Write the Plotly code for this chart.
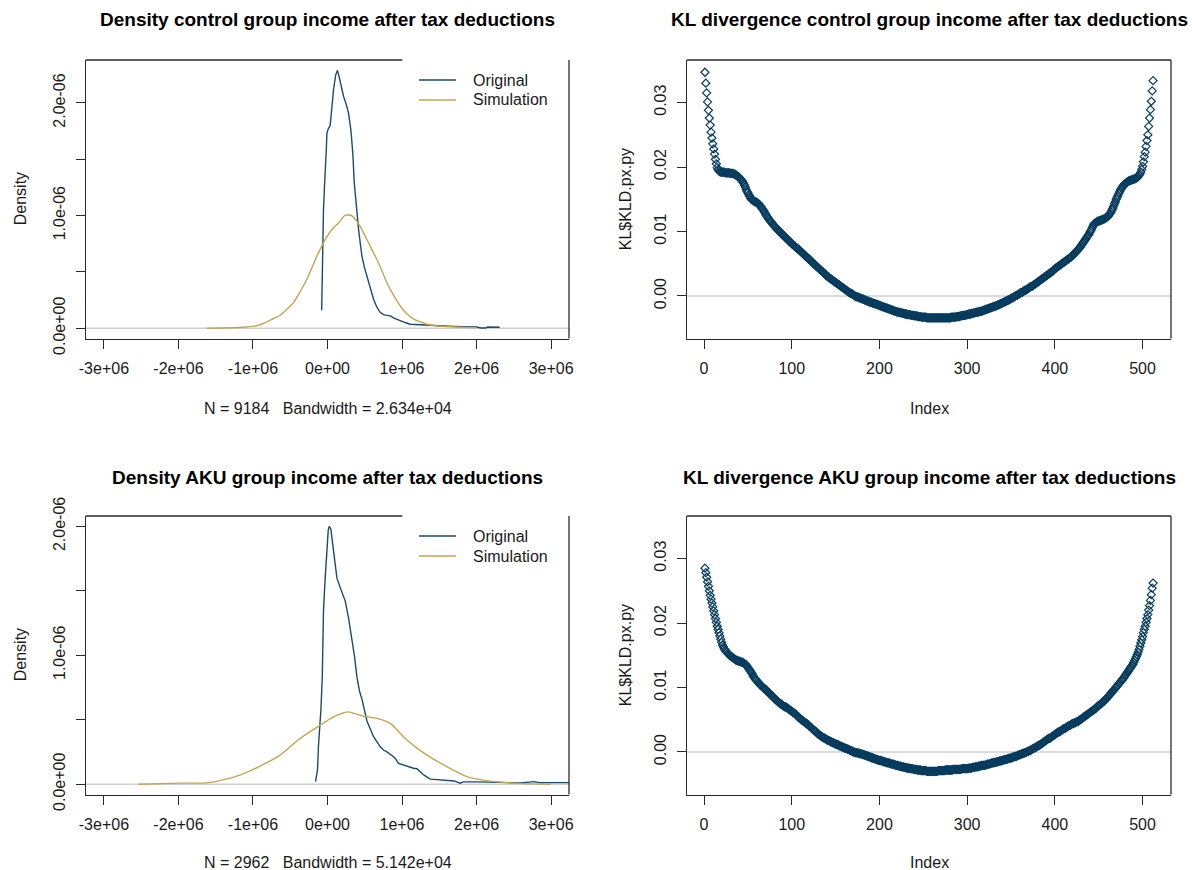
import plotly.graph_objects as go

# ---------------- data ----------------
# Kernel density, control group (income after tax deductions)
ctrl_orig_x = [-78000, -72000, -62000, -54000, -40000, -28000, -15000, -8000, 10000, 36000,
               55000, 81000, 110000, 134000, 160000, 190000, 215000, 250000, 282000, 314000,
               340000, 359000, 385000, 417000, 440000, 462000, 495000, 529000, 570000, 618000,
               660000, 708000, 760000, 842000, 900000, 976000, 1050000, 1110000, 1250000, 1380000,
               1500000, 1700000, 2000000, 2060000, 2120000, 2150000, 2310000]
ctrl_orig_d = [0.16e-6, 0.45e-6, 0.80e-6, 1.05e-6, 1.27e-6, 1.40e-6, 1.60e-6, 1.73e-6, 1.77e-6, 1.80e-6,
               1.95e-6, 2.12e-6, 2.25e-6, 2.29e-6, 2.22e-6, 2.12e-6, 2.06e-6, 1.99e-6, 1.91e-6, 1.76e-6,
               1.55e-6, 1.29e-6, 1.08e-6, 0.876e-6, 0.75e-6, 0.64e-6, 0.54e-6, 0.463e-6, 0.36e-6, 0.257e-6,
               0.19e-6, 0.139e-6, 0.118e-6, 0.109e-6, 0.088e-6, 0.065e-6, 0.048e-6, 0.035e-6, 0.028e-6, 0.025e-6,
               0.021e-6, 0.015e-6, 0.010e-6, 0.002e-6, 0.002e-6, 0.010e-6, 0.008e-6]

ctrl_sim_x = [-1620000, -1400000, -1190000, -1100000, -950000, -850000, -725000, -635000, -500000, -457000,
              -380000, -277000, -200000, -142000, -54000, 0, 59000, 148000, 238000, 270000,
              314000, 395000, 450000, 506000, 580000, 663000, 730000, 798000, 880000, 976000,
              1060000, 1157000, 1250000, 1335000, 1450000, 1600000, 1800000, 2000000]
ctrl_sim_d = [0.000e-6, 0.002e-6, 0.006e-6, 0.010e-6, 0.022e-6, 0.045e-6, 0.086e-6, 0.115e-6, 0.197e-6, 0.227e-6,
              0.31e-6, 0.434e-6, 0.55e-6, 0.64e-6, 0.758e-6, 0.82e-6, 0.876e-6, 0.935e-6, 1.003e-6, 1.005e-6,
              1.003e-6, 0.95e-6, 0.89e-6, 0.817e-6, 0.72e-6, 0.61e-6, 0.51e-6, 0.404e-6, 0.30e-6, 0.197e-6,
              0.13e-6, 0.08e-6, 0.055e-6, 0.035e-6, 0.022e-6, 0.015e-6, 0.008e-6, 0.004e-6]

# Kernel density, AKU group
aku_orig_x = [-161000, -156000, -134000, -121000, -100000, -89000, -70000, -54000, -31000, -8000,
              10000, 23000, 45000, 81000, 126000, 161000, 200000, 238000, 282000, 327000,
              360000, 395000, 430000, 462000, 529000, 618000, 708000, 752000, 798000, 886000,
              909000, 953000, 1060000, 1155000, 1200000, 1290000, 1380000, 1600000, 1700000, 1780000,
              1820000, 2000000, 2230000, 2400000, 2600000, 2770000, 2850000, 3400000]
aku_orig_d = [0.02e-6, 0.033e-6, 0.11e-6, 0.30e-6, 0.45e-6, 0.57e-6, 0.83e-6, 1.346e-6, 1.60e-6, 1.86e-6,
              1.97e-6, 2.00e-6, 1.98e-6, 1.81e-6, 1.60e-6, 1.54e-6, 1.48e-6, 1.42e-6, 1.29e-6, 1.14e-6,
              1.00e-6, 0.83e-6, 0.72e-6, 0.66e-6, 0.49e-6, 0.368e-6, 0.29e-6, 0.265e-6, 0.25e-6, 0.213e-6,
              0.20e-6, 0.162e-6, 0.14e-6, 0.124e-6, 0.12e-6, 0.072e-6, 0.039e-6, 0.030e-6, 0.025e-6, 0.008e-6,
              0.018e-6, 0.018e-6, 0.016e-6, 0.010e-6, 0.010e-6, 0.020e-6, 0.012e-6, 0.012e-6]

aku_sim_x = [-2540000, -1980000, -1620000, -1440000, -1170000, -904000, -635000, -367000, -98000, 81000,
             200000, 282000, 380000, 484000, 663000, 842000, 950000, 1066000, 1200000, 1335000,
             1600000, 1870000, 2140000, 2500000, 2990000]
aku_sim_d = [0.0, 0.008e-6, 0.010e-6, 0.028e-6, 0.072e-6, 0.141e-6, 0.226e-6, 0.355e-6, 0.458e-6, 0.522e-6,
             0.550e-6, 0.561e-6, 0.545e-6, 0.527e-6, 0.51e-6, 0.471e-6, 0.41e-6, 0.342e-6, 0.28e-6, 0.226e-6,
             0.136e-6, 0.059e-6, 0.028e-6, 0.008e-6, 0.0]

ctrl_n, ctrl_bw = 9184, "2.634e+04"
aku_n, aku_bw = 2962, "5.142e+04"

# Pointwise KL divergence KL$KLD.px.py, control group
kl_control = [
    .0347, .0330, .0315, .0301, .0288, .0276, .0265, .0254, .0245, .0236,
    .0228, .0220, .0212, .0205, .0199, .0196, .0194, .0193, .0192, .0192,
    .0192, .0192, .0192, .0191, .0191, .0191, .0191, .0191, .0191, .0190,
    .0190, .0190, .0190, .0189, .0189, .0188, .0187, .0186, .0185, .0184,
    .0182, .0181, .0179, .0177, .0175, .0172, .0169, .0165, .0162, .0160,
    .0157, .0155, .0152, .0150, .0149, .0148, .0147, .0146, .0146, .0145,
    .0144, .0143, .0142, .0140, .0138, .0136, .0134, .0132, .0130, .0127,
    .0125, .0123, .0121, .0119, .0117, .0115, .0114, .0112, .0110, .0109,
    .0107, .0106, .0104, .0103, .0101, .0100, .0099, .0097, .0096, .0095,
    .0093, .0092, .0091, .0089, .0088, .0087, .0085, .0084, .0083, .0081,
    .0080, .0079, .0078, .0076, .0075, .0074, .0073, .0072, .0071, .0069,
    .0068, .0067, .0066, .0064, .0063, .0062, .0060, .0059, .0058, .0057,
    .0055, .0054, .0053, .0051, .0050, .0049, .0048, .0046, .0045, .0044,
    .0043, .0041, .0040, .0039, .0038, .0036, .0035, .0034, .0032, .0031,
    .0030, .0029, .0028, .0027, .0026, .0025, .0024, .0023, .0022, .0021,
    .0020, .0019, .0018, .0017, .0016, .0015, .0014, .0013, .0012, .0011,
    .0010, .0009, .0008, .0007, .0006, .0005, .0004, .0004, .0003, .0002,
    .0001, .0000, -.0001, -.0001, -.0002, -.0002, -.0003, -.0003, -.0004, -.0004,
    -.0005, -.0005, -.0006, -.0007, -.0007, -.0008, -.0008, -.0009, -.0009, -.0010,
    -.0010, -.0011, -.0011, -.0012, -.0012, -.0013, -.0013, -.0014, -.0014, -.0015,
    -.0015, -.0016, -.0016, -.0017, -.0017, -.0018, -.0018, -.0019, -.0019, -.0020,
    -.0020, -.0021, -.0021, -.0022, -.0022, -.0023, -.0023, -.0024, -.0024, -.0025,
    -.0025, -.0025, -.0026, -.0026, -.0026, -.0027, -.0027, -.0027, -.0028, -.0028,
    -.0028, -.0029, -.0029, -.0029, -.0029, -.0030, -.0030, -.0030, -.0030, -.0031,
    -.0031, -.0031, -.0031, -.0032, -.0032, -.0032, -.0032, -.0033, -.0033, -.0033,
    -.0033, -.0033, -.0033, -.0034, -.0034, -.0034, -.0034, -.0034, -.0034, -.0034,
    -.0034, -.0034, -.0034, -.0034, -.0034, -.0034, -.0034, -.0034, -.0034, -.0034,
    -.0034, -.0034, -.0034, -.0034, -.0034, -.0034, -.0034, -.0034, -.0034, -.0034,
    -.0034, -.0033, -.0033, -.0033, -.0033, -.0033, -.0033, -.0032, -.0032, -.0032,
    -.0032, -.0031, -.0031, -.0031, -.0030, -.0030, -.0030, -.0030, -.0029, -.0029,
    -.0029, -.0028, -.0028, -.0028, -.0027, -.0027, -.0027, -.0026, -.0026, -.0026,
    -.0025, -.0025, -.0025, -.0024, -.0024, -.0024, -.0023, -.0023, -.0022, -.0022,
    -.0021, -.0021, -.0020, -.0020, -.0019, -.0019, -.0018, -.0018, -.0017, -.0017,
    -.0016, -.0016, -.0015, -.0015, -.0014, -.0014, -.0013, -.0012, -.0012, -.0011,
    -.0010, -.0010, -.0009, -.0008, -.0008, -.0007, -.0006, -.0006, -.0005, -.0004,
    -.0003, -.0003, -.0002, -.0001, .0000, .0001, .0001, .0002, .0003, .0004,
    .0005, .0005, .0006, .0007, .0008, .0009, .0009, .0010, .0011, .0012,
    .0013, .0014, .0015, .0015, .0016, .0017, .0018, .0019, .0020, .0021,
    .0022, .0023, .0024, .0025, .0026, .0027, .0028, .0029, .0030, .0031,
    .0032, .0033, .0034, .0035, .0036, .0037, .0038, .0039, .0041, .0042,
    .0043, .0044, .0045, .0046, .0047, .0048, .0049, .0050, .0051, .0052,
    .0053, .0054, .0055, .0056, .0057, .0058, .0059, .0060, .0061, .0063,
    .0064, .0065, .0067, .0068, .0070, .0071, .0073, .0074, .0076, .0078,
    .0080, .0082, .0084, .0086, .0088, .0090, .0092, .0094, .0096, .0099,
    .0101, .0104, .0107, .0110, .0112, .0113, .0114, .0115, .0116, .0116,
    .0117, .0117, .0118, .0118, .0119, .0119, .0120, .0121, .0122, .0123,
    .0124, .0126, .0128, .0130, .0133, .0136, .0139, .0143, .0146, .0150,
    .0153, .0156, .0159, .0162, .0165, .0167, .0169, .0171, .0173, .0174,
    .0175, .0176, .0177, .0178, .0179, .0179, .0180, .0180, .0181, .0181,
    .0182, .0182, .0183, .0184, .0185, .0187, .0189, .0192, .0196, .0201,
    .0208, .0216, .0223, .0232, .0241, .0250, .0263, .0276, .0289, .0302,
    .0318, .0334,
]

# Pointwise KL divergence, AKU group
kl_aku = [
    .0285, .0278, .0271, .0264, .0257, .0250, .0243, .0237, .0231, .0225,
    .0219, .0213, .0207, .0201, .0195, .0190, .0185, .0180, .0175, .0170,
    .0166, .0163, .0160, .0158, .0156, .0155, .0153, .0152, .0150, .0149,
    .0148, .0147, .0146, .0145, .0144, .0143, .0142, .0142, .0141, .0141,
    .0140, .0140, .0139, .0139, .0138, .0137, .0136, .0135, .0133, .0131,
    .0129, .0127, .0125, .0123, .0121, .0118, .0116, .0114, .0112, .0111,
    .0109, .0107, .0106, .0104, .0103, .0102, .0100, .0099, .0098, .0097,
    .0096, .0094, .0093, .0092, .0090, .0089, .0088, .0086, .0085, .0084,
    .0082, .0081, .0080, .0078, .0077, .0076, .0075, .0074, .0073, .0072,
    .0071, .0070, .0070, .0069, .0068, .0067, .0066, .0065, .0064, .0063,
    .0062, .0061, .0060, .0059, .0058, .0056, .0055, .0054, .0052, .0051,
    .0050, .0049, .0048, .0047, .0046, .0045, .0044, .0043, .0042, .0040,
    .0039, .0038, .0037, .0035, .0034, .0033, .0032, .0031, .0029, .0028,
    .0027, .0026, .0025, .0024, .0023, .0022, .0022, .0021, .0020, .0019,
    .0018, .0018, .0017, .0016, .0016, .0015, .0014, .0014, .0013, .0012,
    .0012, .0011, .0011, .0010, .0009, .0009, .0008, .0008, .0007, .0006,
    .0006, .0005, .0005, .0004, .0004, .0003, .0002, .0002, .0001, .0000,
    .0000, -.0001, -.0001, -.0001, -.0002, -.0002, -.0002, -.0003, -.0003, -.0003,
    -.0004, -.0004, -.0005, -.0005, -.0006, -.0006, -.0007, -.0007, -.0008, -.0008,
    -.0009, -.0009, -.0010, -.0010, -.0011, -.0011, -.0012, -.0012, -.0013, -.0013,
    -.0013, -.0014, -.0014, -.0015, -.0015, -.0015, -.0016, -.0016, -.0017, -.0017,
    -.0017, -.0018, -.0018, -.0019, -.0019, -.0019, -.0020, -.0020, -.0021, -.0021,
    -.0021, -.0022, -.0022, -.0022, -.0023, -.0023, -.0023, -.0024, -.0024, -.0024,
    -.0025, -.0025, -.0025, -.0025, -.0026, -.0026, -.0026, -.0026, -.0027, -.0027,
    -.0027, -.0027, -.0028, -.0028, -.0028, -.0028, -.0028, -.0029, -.0029, -.0029,
    -.0029, -.0029, -.0029, -.0030, -.0030, -.0030, -.0030, -.0030, -.0030, -.0030,
    -.0030, -.0030, -.0030, -.0030, -.0030, -.0030, -.0029, -.0029, -.0029, -.0029,
    -.0029, -.0029, -.0029, -.0029, -.0028, -.0028, -.0028, -.0028, -.0028, -.0028,
    -.0028, -.0028, -.0028, -.0027, -.0027, -.0027, -.0027, -.0027, -.0027, -.0027,
    -.0027, -.0027, -.0027, -.0026, -.0026, -.0026, -.0026, -.0026, -.0026, -.0026,
    -.0026, -.0025, -.0025, -.0025, -.0025, -.0024, -.0024, -.0024, -.0023, -.0023,
    -.0023, -.0023, -.0022, -.0022, -.0022, -.0021, -.0021, -.0021, -.0021, -.0021,
    -.0020, -.0020, -.0019, -.0019, -.0019, -.0018, -.0018, -.0017, -.0017, -.0017,
    -.0016, -.0016, -.0016, -.0015, -.0015, -.0015, -.0014, -.0014, -.0014, -.0013,
    -.0013, -.0012, -.0012, -.0012, -.0011, -.0011, -.0010, -.0010, -.0010, -.0009,
    -.0009, -.0008, -.0008, -.0007, -.0007, -.0007, -.0006, -.0005, -.0005, -.0004,
    -.0004, -.0003, -.0003, -.0002, -.0002, -.0001, -.0001, .0000, .0001, .0001,
    .0002, .0003, .0003, .0004, .0005, .0006, .0006, .0007, .0008, .0009,
    .0010, .0010, .0011, .0012, .0013, .0014, .0015, .0016, .0017, .0018,
    .0019, .0020, .0021, .0021, .0022, .0023, .0024, .0025, .0026, .0027,
    .0028, .0029, .0030, .0031, .0031, .0032, .0033, .0034, .0035, .0036,
    .0036, .0037, .0038, .0039, .0040, .0041, .0041, .0042, .0043, .0044,
    .0044, .0045, .0045, .0046, .0047, .0047, .0048, .0049, .0050, .0051,
    .0052, .0053, .0054, .0055, .0056, .0057, .0058, .0059, .0060, .0061,
    .0062, .0063, .0064, .0065, .0066, .0067, .0068, .0070, .0071, .0072,
    .0073, .0074, .0075, .0077, .0078, .0079, .0080, .0082, .0083, .0085,
    .0086, .0088, .0089, .0091, .0093, .0094, .0096, .0097, .0099, .0101,
    .0102, .0104, .0106, .0107, .0109, .0111, .0112, .0114, .0116, .0118,
    .0120, .0122, .0124, .0126, .0128, .0130, .0132, .0134, .0136, .0139,
    .0142, .0145, .0148, .0151, .0155, .0159, .0164, .0169, .0174, .0179,
    .0185, .0190, .0195, .0201, .0207, .0213, .0220, .0227, .0235, .0244,
    .0254, .0262,
]

income_ticks = [-3e6, -2e6, -1e6, 0, 1e6, 2e6, 3e6]
income_labels = ["-3e+06", "-2e+06", "-1e+06", "0e+00", "1e+06", "2e+06", "3e+06"]
density_ticks = [0, 0.5e-6, 1.0e-6, 1.5e-6, 2.0e-6]
density_labels = ["0.0e+00", "", "1.0e-06", "", "2.0e-06"]
index_ticks = [0, 100, 200, 300, 400, 500]
kl_ticks = [0.00, 0.01, 0.02, 0.03]
kl_labels = ["0.00", "0.01", "0.02", "0.03"]

series_names = ["Original", "Simulation"]
titles = [
    "Density control group income after tax deductions",
    "KL divergence control group income after tax deductions",
    "Density AKU group income after tax deductions",
    "KL divergence AKU group income after tax deductions",
]

# ---------------- styling ----------------
W, H = 1192, 870
FONT = "Liberation Sans, Arial, sans-serif"
C_ORIG = "#1c4a6b"
C_SIM = "#c4a552"
C_KL = "#083c5e"
C_AXIS = "#2a2a2a"
C_TEXT = "#1a1a1a"
C_ZERO = "#cfcfcf"

# plot regions in pixels: (left, right) and (top, bottom)
LEFT_COL = (86, 569)
RIGHT_COL = (687, 1171)
TOP_ROW = (60, 338.5)
BOT_ROW = (516, 794.5)


def xdom(col):
    return [col[0] / W, col[1] / W]


def ydom(row):
    return [1 - row[1] / H, 1 - row[0] / H]


def r_range(lo, hi):
    # R's default 4% axis padding
    pad = 0.04 * (hi - lo)
    return [lo - pad, hi + pad]


kl_index_control = list(range(1, len(kl_control) + 1))
kl_index_aku = list(range(1, len(kl_aku) + 1))

fig = go.Figure()

# density panels
for (ox, od, sx, sd), axn in [((ctrl_orig_x, ctrl_orig_d, ctrl_sim_x, ctrl_sim_d), ""),
                              ((aku_orig_x, aku_orig_d, aku_sim_x, aku_sim_d), "3")]:
    fig.add_trace(go.Scatter(x=ox, y=od, mode="lines", name=series_names[0],
                             line=dict(color=C_ORIG, width=1.4), showlegend=False,
                             xaxis="x" + axn, yaxis="y" + axn))
    fig.add_trace(go.Scatter(x=sx, y=sd, mode="lines", name=series_names[1],
                             line=dict(color=C_SIM, width=1.4, shape="spline", smoothing=0.7),
                             showlegend=False, xaxis="x" + axn, yaxis="y" + axn))

# KL divergence panels
for idx, kl, axn in [(kl_index_control, kl_control, "2"), (kl_index_aku, kl_aku, "4")]:
    fig.add_trace(go.Scatter(x=idx, y=kl, mode="markers", showlegend=False,
                             marker=dict(symbol="diamond-open", size=6.2, color=C_KL,
                                         line=dict(color=C_KL, width=1.2)),
                             xaxis="x" + axn, yaxis="y" + axn))

tick_font = dict(family=FONT, size=16, color=C_TEXT)
common_axis = dict(showgrid=False, zeroline=False, showline=True, linecolor=C_AXIS,
                   linewidth=1.3, ticks="outside", ticklen=9, tickwidth=1.3,
                   tickcolor=C_AXIS, tickfont=tick_font, fixedrange=True,
                   automargin=False)

ctrl_max = max(ctrl_orig_d + ctrl_sim_d)
aku_max = max(aku_orig_d + aku_sim_d)
kl_range = r_range(-0.005, 0.035)
income_range = r_range(income_ticks[0], income_ticks[-1])

layout_axes = {}
panels = [
    ("", LEFT_COL, TOP_ROW, income_range, r_range(0, ctrl_max), "density"),
    ("2", RIGHT_COL, TOP_ROW, r_range(1, len(kl_control)), kl_range, "kl"),
    ("3", LEFT_COL, BOT_ROW, income_range, r_range(0, aku_max), "density"),
    ("4", RIGHT_COL, BOT_ROW, r_range(1, len(kl_aku)), kl_range, "kl"),
]
for axn, col, row, xr, yr, kind in panels:
    xa = dict(common_axis, domain=xdom(col), range=xr, anchor="y" + axn,
              ticklabelstandoff=6)
    ya = dict(common_axis, domain=ydom(row), range=yr, anchor="x" + axn,
              tickangle=-90, ticklabelstandoff=4)
    if kind == "density":
        xa.update(tickmode="array", tickvals=income_ticks, ticktext=income_labels)
        ya.update(tickmode="array", tickvals=density_ticks, ticktext=density_labels)
    else:
        xa.update(tickmode="array", tickvals=index_ticks,
                  ticktext=[str(v) for v in index_ticks])
        ya.update(tickmode="array", tickvals=kl_ticks, ticktext=kl_labels)
    layout_axes["xaxis" + axn] = xa
    layout_axes["yaxis" + axn] = ya

shapes = []
annotations = []
for axn, col, row, xr, yr, kind in panels:
    xd = "x" + axn + " domain" if axn else "x domain"
    yd = "y" + axn + " domain" if axn else "y domain"
    ydata = "y" + axn if axn else "y"
    # zero reference line
    shapes.append(dict(type="line", xref=xd, yref=ydata, x0=0, x1=1, y0=0, y1=0,
                       line=dict(color=C_ZERO, width=1.6), layer="below"))
    # right border
    shapes.append(dict(type="line", xref=xd, yref=yd, x0=1, x1=1, y0=0, y1=1,
                       line=dict(color=C_AXIS, width=1.3)))
    # top border (the legend background hides part of it on the density panels)
    top_end = 0.655 if kind == "density" else 1
    shapes.append(dict(type="line", xref=xd, yref=yd, x0=0, x1=top_end, y0=1, y1=1,
                       line=dict(color=C_AXIS, width=1.3)))

# titles and axis labels
title_font = dict(family=FONT, size=19, color="#000000")
label_font = dict(family=FONT, size=16, color=C_TEXT)
nb = "\u00a0"
xlabels = [
    f"N = {ctrl_n}{nb*3}Bandwidth = {ctrl_bw}",
    "Index",
    f"N = {aku_n}{nb*3}Bandwidth = {aku_bw}",
    "Index",
]
ylabels = ["Density", "KL$KLD.px.py", "Density", "KL$KLD.px.py"]
title_y = [20, 20, 478, 478]
xlabel_y = [408, 408, 862, 862]

for k, (axn, col, row, xr, yr, kind) in enumerate(panels):
    cx = (col[0] + col[1]) / 2 / W
    cy = 1 - (row[0] + row[1]) / 2 / H
    annotations.append(dict(text=f"<b>{titles[k]}</b>", x=cx, y=1 - title_y[k] / H,
                            xref="paper", yref="paper", showarrow=False,
                            xanchor="center", yanchor="middle", font=title_font))
    annotations.append(dict(text=xlabels[k], x=cx, y=1 - xlabel_y[k] / H,
                            xref="paper", yref="paper", showarrow=False,
                            xanchor="center", yanchor="middle", font=label_font))
    lx = 20 if col == LEFT_COL else 625
    annotations.append(dict(text=ylabels[k], x=lx / W, y=cy, textangle=-90,
                            xref="paper", yref="paper", showarrow=False,
                            xanchor="center", yanchor="middle", font=label_font))

# legends on the density panels
for row in (TOP_ROW, BOT_ROW):
    for j, (name, colr) in enumerate(zip(series_names, [C_ORIG, C_SIM])):
        yy = 1 - (row[0] + 20 + 20 * j) / H
        shapes.append(dict(type="line", xref="paper", yref="paper",
                           x0=419 / W, x1=456 / W, y0=yy, y1=yy,
                           line=dict(color=colr, width=1.6)))
        annotations.append(dict(text=name, x=471 / W, y=yy, xref="paper", yref="paper",
                                showarrow=False, xanchor="left", yanchor="middle",
                                font=label_font))

fig.update_layout(
    width=W, height=H,
    margin=dict(l=0, r=0, t=0, b=0),
    paper_bgcolor="white", plot_bgcolor="white",
    showlegend=False,
    shapes=shapes, annotations=annotations,
    **layout_axes,
)

fig.write_html("out.html")
